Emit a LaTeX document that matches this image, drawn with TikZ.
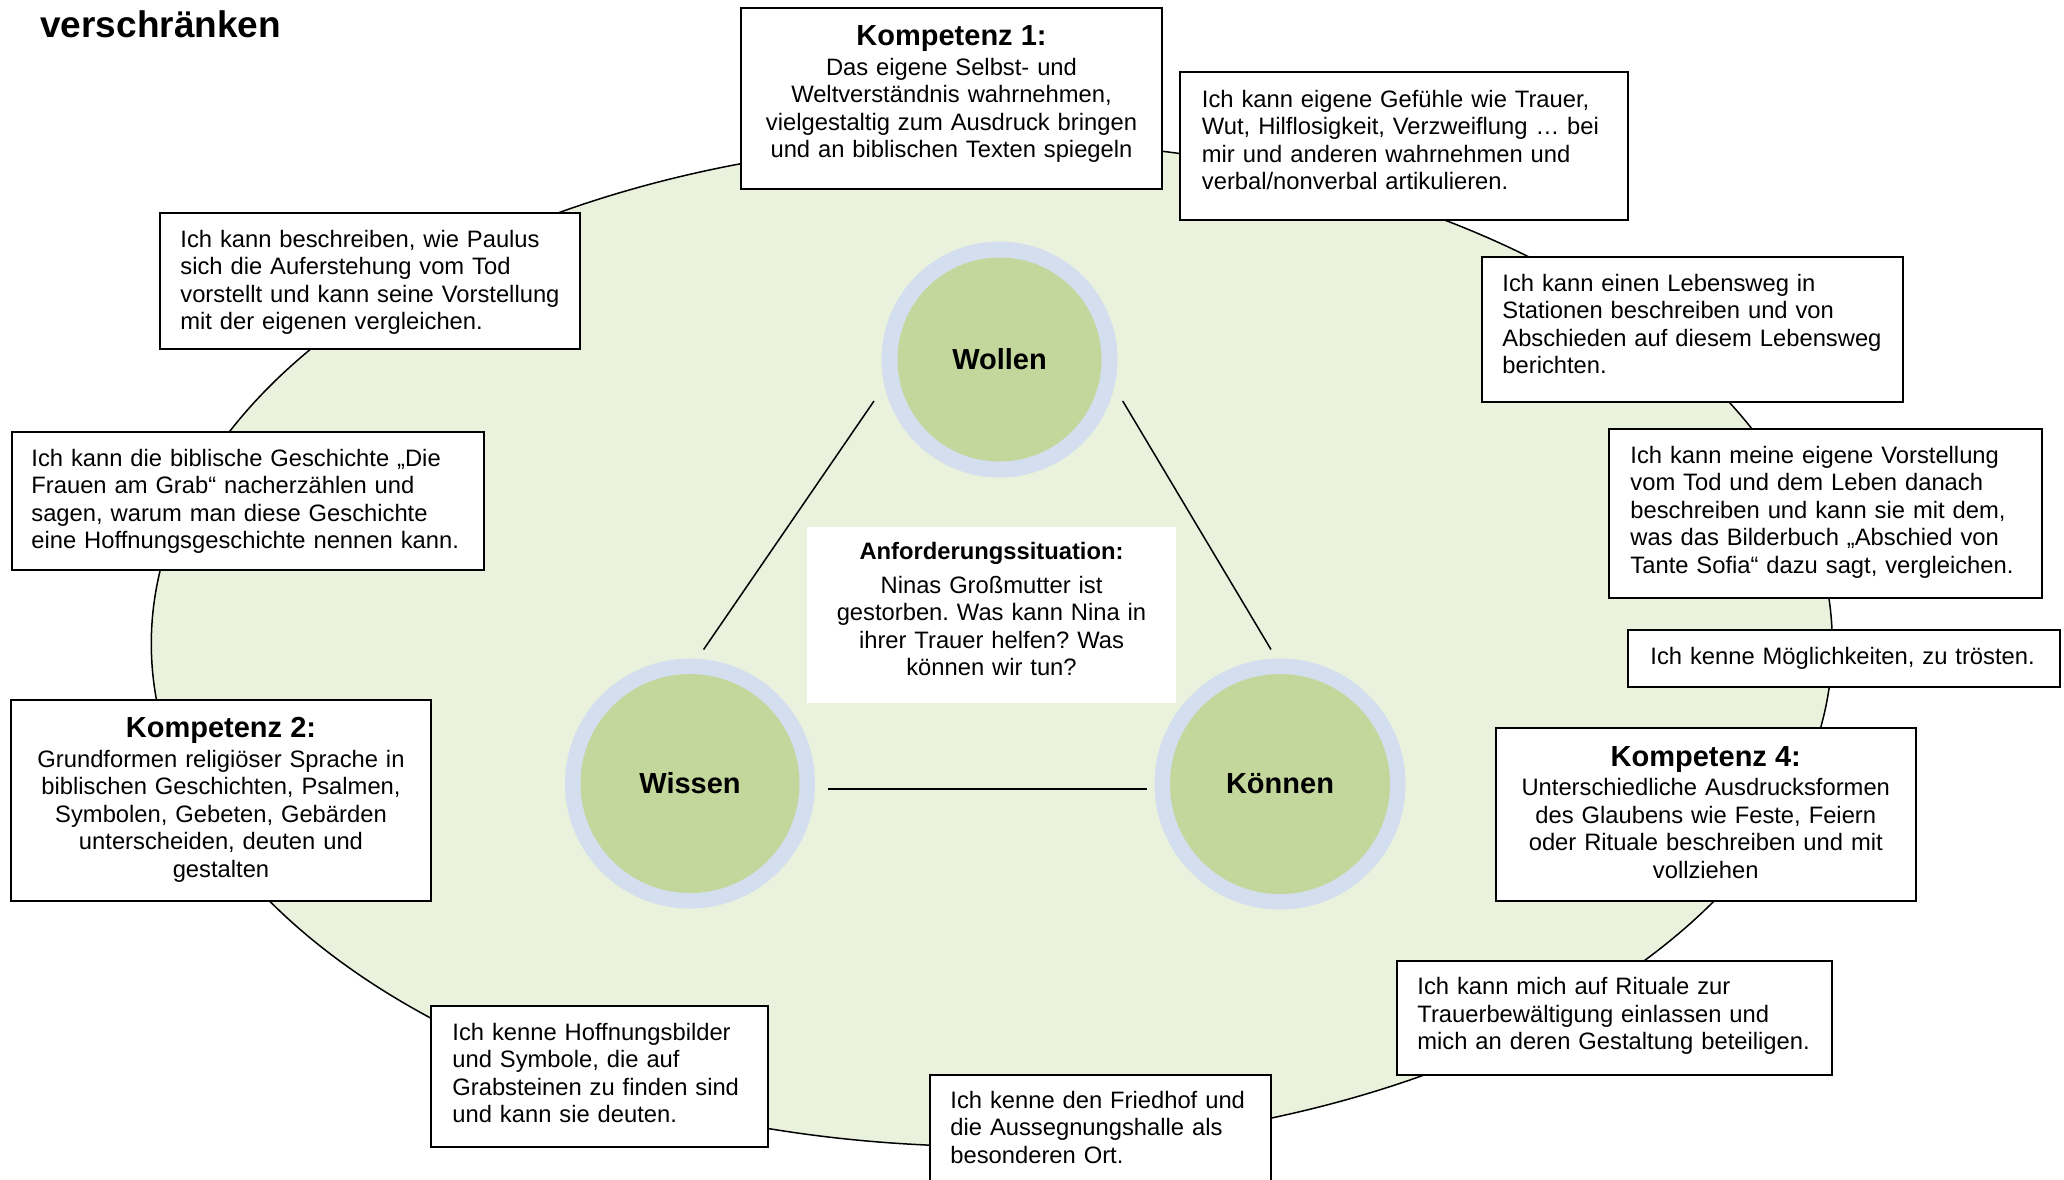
\documentclass[tikz,border=0pt]{standalone}
\usepackage{fontspec}
\setmainfont{Liberation Sans}
\usetikzlibrary{fit,shapes.geometric}
\definecolor{ellfill}{HTML}{EAF1DD}
\definecolor{ringc}{HTML}{D3DFEE}
\definecolor{coreg}{HTML}{C3D69B}
\frenchspacing
\begin{document}
\begin{tikzpicture}[x=0.5pt,y=-0.5pt,
  box/.style={draw=black, line width=1pt, fill=white, inner sep=0pt},
  plainbox/.style={fill=white, inner sep=0pt},
  ltxt/.style={anchor=base west, inner sep=0pt, align=left, text width=300pt, font=\fontsize{11.88}{13.75}\selectfont},
  ctxt/.style={anchor=base, inner sep=0pt, align=center, text width=300pt, font=\fontsize{11.88}{13.75}\selectfont},
  ktitle/.style={anchor=base, inner sep=0pt, font=\fontsize{14.5}{16}\selectfont\bfseries},
  atitle/.style={anchor=base, inner sep=0pt, font=\fontsize{11.88}{13.75}\selectfont\bfseries},
  ringnode/.style={circle, fill=ringc, inner sep=0pt},
  corenode/.style={circle, fill=coreg, inner sep=0pt, font=\fontsize{14.5}{16}\selectfont\bfseries},
  link/.style={draw=black, line width=0.75pt},
  bigell/.style={ellipse, draw=black, fill=ellfill, line width=0.75pt, inner sep=0pt}
]
\useasboundingbox (0,0) rectangle (2064,1179);
\fill[white] (0,0) rectangle (2064,1179);

% title
\node[anchor=base west, inner sep=0pt, font=\fontsize{18.5}{20}\selectfont\bfseries] (title) at (40,37) {verschränken};

% big field
\node[bigell, minimum width=840.5pt, minimum height=502.8pt] (field) at (991.8,643.7) {};

% circles
\node[ringnode, minimum size=118pt] (wollenring) at (999.5,359.5) {};
\node[corenode, minimum size=102pt] (wollen) at (999.5,359.5) {Wollen};
\node[ringnode, minimum size=125pt] (wissenring) at (690,783.5) {};
\node[corenode, minimum size=109.5pt] (wissen) at (690,783.5) {Wissen};
\node[ringnode, minimum size=125.5pt] (koennenring) at (1280,784) {};
\node[corenode, minimum size=110pt] (koennen) at (1280,784) {Können};

% triangle links
\coordinate (wo1) at (874,401);
\coordinate (wi1) at (703.6,649.5);
\coordinate (wo2) at (1122.7,401);
\coordinate (ko1) at (1271,649.5);
\coordinate (wi2) at (827.8,789);
\coordinate (ko2) at (1147,789);
\draw[link] (wo1) -- (wi1);
\draw[link] (wo2) -- (ko1);
\draw[link] (wi2) -- (ko2);

% Anforderungssituation
\node[plainbox, fit={(806.6,527) (1176.4,703)}] (anf) {};
\node[atitle] (anft) at (991.5,559.5) {Anforderungssituation:};
\node[ctxt] (anfb) at (991.5,593) {Ninas Großmutter ist\\gestorben. Was kann Nina in\\ihrer Trauer helfen? Was\\können wir tun?};

% Kompetenz 1
\node[box, fit={(741,8) (1162,189)}] (k1) {};
\node[ktitle] (k1t) at (951.5,45) {Kompetenz 1:};
\node[ctxt] (k1b) at (951.5,75.4) {Das eigene Selbst- und\\Weltverständnis wahrnehmen,\\vielgestaltig zum Ausdruck bringen\\und an biblischen Texten spiegeln};

% Gefuehle
\node[box, fit={(1180,72) (1628,220)}] (b2) {};
\node[ltxt] (b2t) at (1201.5,107) {Ich kann eigene Gefühle wie Trauer,\\Wut, Hilflosigkeit, Verzweiflung … bei\\mir und anderen wahrnehmen und\\verbal/nonverbal artikulieren.};

% Lebensweg
\node[box, fit={(1482,257) (1902.5,402)}] (b3) {};
\node[ltxt] (b3t) at (1502,291) {Ich kann einen Lebensweg in\\Stationen beschreiben und von\\Abschieden auf diesem Lebensweg\\berichten.};

% Vorstellung
\node[box, fit={(1609,428.6) (2041.6,597.6)}] (b4) {};
\node[ltxt] (b4t) at (1630,463) {Ich kann meine eigene Vorstellung\\vom Tod und dem Leben danach\\beschreiben und kann sie mit dem,\\was das Bilderbuch „Abschied von\\Tante Sofia“ dazu sagt, vergleichen.};

% troesten
\node[box, fit={(1628,630) (2060,687)}] (b5) {};
\node[ltxt] (b5t) at (1650,664) {Ich kenne Möglichkeiten, zu trösten.};

% Kompetenz 4
\node[box, fit={(1496,728) (1915.5,901)}] (k4) {};
\node[ktitle] (k4t) at (1705.75,766) {Kompetenz 4:};
\node[ctxt] (k4b) at (1705.75,795.8) {Unterschiedliche Ausdrucksformen\\des Glaubens wie Feste, Feiern\\oder Rituale beschreiben und mit\\vollziehen};

% Rituale
\node[box, fit={(1397,960.5) (1832,1074.7)}] (b7) {};
\node[ltxt] (b7t) at (1417,994.5) {Ich kann mich auf Rituale zur\\Trauerbewältigung einlassen und\\mich an deren Gestaltung beteiligen.};

% Friedhof
\node[box, fit={(929.7,1074.7) (1271,1210)}] (b8) {};
\node[ltxt] (b8t) at (950,1108) {Ich kenne den Friedhof und\\die Aussegnungshalle als\\besonderen Ort.};

% Hoffnungsbilder
\node[box, fit={(430.7,1006) (767.5,1147)}] (b9) {};
\node[ltxt] (b9t) at (452,1040.3) {Ich kenne Hoffnungsbilder\\und Symbole, die auf\\Grabsteinen zu finden sind\\und kann sie deuten.};

% Kompetenz 2
\node[box, fit={(10.5,699.6) (431.4,901)}] (k2) {};
\node[ktitle] (k2t) at (221,737.4) {Kompetenz 2:};
\node[ctxt] (k2b) at (221,767) {Grundformen religiöser Sprache in\\biblischen Geschichten, Psalmen,\\Symbolen, Gebeten, Gebärden\\unterscheiden, deuten und\\gestalten};

% Frauen am Grab
\node[box, fit={(11.5,432.4) (484.4,570)}] (b11) {};
\node[ltxt] (b11t) at (31,466) {Ich kann die biblische Geschichte „Die\\Frauen am Grab“ nacherzählen und\\sagen, warum man diese Geschichte\\eine Hoffnungsgeschichte nennen kann.};

% Paulus
\node[box, fit={(160,212.8) (580,349.4)}] (b12) {};
\node[ltxt] (b12t) at (180,247) {Ich kann beschreiben, wie Paulus\\sich die Auferstehung vom Tod\\vorstellt und kann seine Vorstellung\\mit der eigenen vergleichen.};
\end{tikzpicture}
\end{document}
